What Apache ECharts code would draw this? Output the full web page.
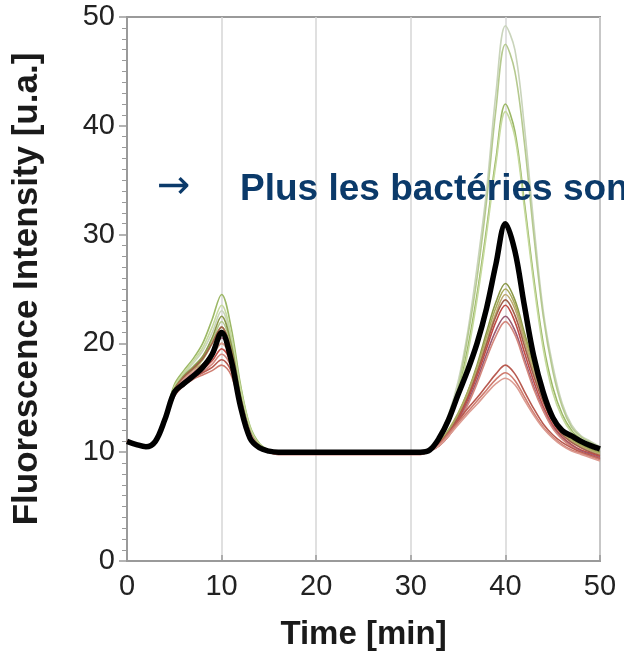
<!DOCTYPE html>
<html><head><meta charset="utf-8">
<script src="https://cdn.jsdelivr.net/npm/echarts@6/dist/echarts.min.js"></script>
<style>html,body{margin:0;padding:0;background:#fff}#c{width:624px;height:656px}</style>
</head><body><div id="c"></div>
<script>
// time points (min)
const times = [0,1,2,3,4,5,6,7,8,9,10,11,12,13,14,15,16,18,20,25,30,31,32,33,34,35,36,37,38,39,40,41,42,43,44,45,46,47,48,49,50];

// mean curve (thick black)
const meanCurve = [11,10.7,10.5,11,13,15.5,16.3,17,17.8,19,21,18.5,14.2,11.3,10.4,10.1,10, 10,10,10,10, 10,10.2,11.3,13,15.3,17.5,20,23.2,27.3,31,28.5,23.5,18.8,15.5,13.2,12,11.5,11,10.6,10.3];

// individual curves
const curve1  = [11,10.7,10.5,11,13.1,16,17.2,18.2,19.3,21,23,20.5,15.8,12.2,10.7,10.2,10, 10,10,10,10, 10,10.3,11.5,13.5,16.5,21,27,34,43,49.2,47,40,31,23,18,14.5,12.5,11.5,11,10.5];
const curve2  = [11,10.7,10.5,11,13.1,16,17.1,17.9,18.8,20.2,22,19.8,15.3,12,10.6,10.2,10, 10,10,10,10, 10,10.3,11.3,13.2,16,20.5,26,33,41.5,47.5,45,38.5,30,22.5,17.5,14.2,12.3,11.4,10.9,10.4];
const curve3  = [11,10.7,10.5,11,13.2,16.2,17.5,18.6,20,22.2,24.5,21.5,16.2,12.4,10.8,10.2,10, 10,10,10,10, 10,10.3,11.2,13,15.5,19.5,24.5,30.5,37,42,39.5,33,26,20,16,13.5,12,11.2,10.7,10.3];
const curve4  = [11,10.7,10.5,11,13.1,16,17.3,18.4,19.6,21.5,23.5,20.8,15.9,12.3,10.7,10.2,10, 10,10,10,10, 10,10.2,11,12.8,15.2,19,24,30,36.5,41.3,39,32.5,25.5,19.5,15.5,13.2,11.8,11,10.6,10.2];
const curve5  = [11,10.7,10.5,11,13,15.8,17,17.8,18.8,20.5,22.5,20,15.2,11.9,10.6,10.1,10, 10,10,10,10, 10,10.2,10.8,12,13.5,15.5,18,21,23.8,25.5,24,21,18,15.3,13.3,12,11.2,10.7,10.3,10];
const curve6  = [11,10.7,10.5,11,13,15.7,16.8,17.6,18.5,20,21.5,19.3,14.8,11.7,10.5,10.1,10, 10,10,10,10, 10,10.2,10.9,12.1,13.6,15.5,17.8,20.6,23.3,25,23.6,20.7,17.8,15.2,13.2,11.9,11.1,10.6,10.2,9.9];
const curve7  = [11,10.7,10.5,11,12.9,15.6,16.9,17.6,18.1,18.9,20,18.6,14.7,11.8,10.6,10.1,10, 10,10,10,10, 10,10.1,10.7,11.8,13.3,15.2,17.5,20.2,22.8,24.5,23.2,20.3,17.4,14.9,13,11.8,11,10.5,10.1,9.8];
const curve8  = [11,10.7,10.5,11,13,15.7,16.9,17.7,18.6,20,21.5,19.4,15,11.8,10.5,10.1,9.9, 9.9,9.9,9.9,9.9, 9.9,10.1,10.7,11.8,13.2,15,17.3,19.9,22.5,24,22.6,19.8,17,14.6,12.8,11.6,10.9,10.4,10,9.7];
const curve9  = [11,10.7,10.5,11,12.9,15.4,16.4,17,17.6,18.4,19.5,18.2,14.5,11.6,10.4,10,9.9, 9.9,9.9,9.9,9.9, 9.9,10.1,10.6,11.6,13,14.8,17,19.5,22,23.5,22,19.2,16.5,14.2,12.5,11.4,10.7,10.2,9.9,9.6];
const curve10 = [11,10.7,10.5,11,13,15.6,16.6,17.3,18,19.2,20.5,18.8,14.8,11.7,10.5,10.1,9.9, 9.9,9.9,9.9,9.9, 9.9,10.1,10.6,11.5,12.8,14.5,16.6,19,21.2,22.5,21.2,18.6,16,13.9,12.3,11.3,10.6,10.1,9.8,9.5];
const curve11 = [11,10.7,10.5,10.9,12.8,15.3,16.3,16.9,17.4,18.1,19,17.9,14.4,11.6,10.4,10,9.9, 9.9,9.9,9.9,9.9, 9.9,10.1,10.6,11.5,12.7,14.3,16.3,18.6,20.7,22,20.8,18.3,15.8,13.8,12.2,11.2,10.5,10,9.7,9.4];
const curve12 = [11,10.7,10.5,10.9,12.8,15.2,16.2,16.8,17.3,17.8,18.5,17.5,14.2,11.5,10.3,10,9.8, 9.8,9.8,9.8,9.8, 9.8,10.1,10.8,11.8,12.9,14,15,16.1,17.2,18,17.2,15.6,14,12.6,11.6,10.9,10.4,10,9.7,9.4];
const curve13 = [11,10.7,10.5,10.9,12.7,15.1,16.1,16.7,17.1,17.5,18,17.1,14,11.4,10.3,10,9.8, 9.8,9.8,9.8,9.8, 9.8,10.1,10.7,11.7,12.7,13.7,14.7,15.7,16.7,17.3,16.6,15.1,13.6,12.3,11.4,10.7,10.2,9.9,9.6,9.3];
const curve14 = [11,10.7,10.5,11,12.9,15.6,16.7,17.4,18,18.9,20,18.6,14.7,11.8,10.5,10.1,9.9, 9.9,9.9,9.9,9.9, 9.9,10.1,10.6,11.5,12.5,13.5,14.4,15.4,16.3,16.8,16.2,14.8,13.4,12.2,11.3,10.6,10.1,9.8,9.5,9.2];

const curves = [curve1,curve2,curve3,curve4,curve5,curve6,curve7,curve8,curve9,curve10,curve11,curve12,curve13,curve14];
const curveColors = ['#c9d4bb','#b5c98f','#9cb866','#c6da9e','#8a9848','#a9ab5c','#bda970','#a0604a','#c04c46','#9a5a72','#d4887e','#b85a50','#cf7c70','#dc9c92'];

const xTickValues = [0,10,20,30,40,50];
const yTickValues = [0,10,20,30,40,50];
const xTitle = 'Time [min]';
const yTitle = 'Fluorescence Intensity [u.a.]';
const overlayArrow = '→';
const overlayText = 'Plus les bactéries sont';

const FONT = '"Liberation Sans", Arial, Helvetica, sans-serif';
const pair = arr => times.map((t, i) => [t, arr[i]]);

const series = curves.map((c, i) => ({
  type: 'line', data: pair(c), showSymbol: false, smooth: 0.35,
  lineStyle: { color: curveColors[i], width: 1.6 }, z: 2
}));
series.push({
  type: 'line', data: pair(meanCurve), showSymbol: false, smooth: 0.35,
  lineStyle: { color: '#000', width: 5.5 }, z: 3
});

const chart = echarts.init(document.getElementById('c'), null, { renderer: 'canvas' });
chart.setOption({
  animation: false,
  backgroundColor: '#fff',
  grid: { left: 127, right: 24, top: 17, bottom: 93, show: true, borderColor: '#9a9a9a', borderWidth: 2, backgroundColor: 'transparent' },
  xAxis: {
    type: 'value', min: xTickValues[0], max: xTickValues[xTickValues.length-1], interval: 10,
    name: xTitle, nameLocation: 'middle', nameGap: 57,
    nameTextStyle: { fontFamily: FONT, fontWeight: 'bold', fontSize: 33, color: '#1a1a1a' },
    axisLine: { lineStyle: { color: '#9a9a9a', width: 2 } },
    axisTick: { inside: true, length: 6, lineStyle: { color: '#9a9a9a', width: 1.5 } },
    axisLabel: { fontFamily: FONT, fontSize: 29, color: '#222', margin: 11 },
    splitLine: { show: true, lineStyle: { color: '#d6d6d6', width: 1.5 } }
  },
  yAxis: {
    type: 'value', min: yTickValues[0], max: yTickValues[yTickValues.length-1], interval: 10,
    name: yTitle, nameLocation: 'middle', nameGap: 82,
    nameTextStyle: { fontFamily: FONT, fontWeight: 'bold', fontSize: 35, color: '#1a1a1a' },
    axisLine: { show: true, lineStyle: { color: '#9a9a9a', width: 2 } },
    axisTick: { show: true, length: 8, lineStyle: { color: '#9a9a9a', width: 1.5 } },
    minorTick: { show: true, splitNumber: 10, length: 5, lineStyle: { color: '#9a9a9a', width: 1 } },
    axisLabel: { fontFamily: FONT, fontSize: 29, color: '#222', margin: 12 },
    splitLine: { show: false }
  },
  graphic: [
    { type: 'text', left: 157, top: 168, z: 100, style: { text: overlayArrow, font: '40px "DejaVu Sans", sans-serif', fill: '#0b3a6a' } },
    { type: 'text', left: 240, top: 171, z: 100, style: { text: overlayText, font: 'bold 37px ' + FONT, fill: '#0b3a6a' } }
  ],
  series: series
});
</script></body></html>
